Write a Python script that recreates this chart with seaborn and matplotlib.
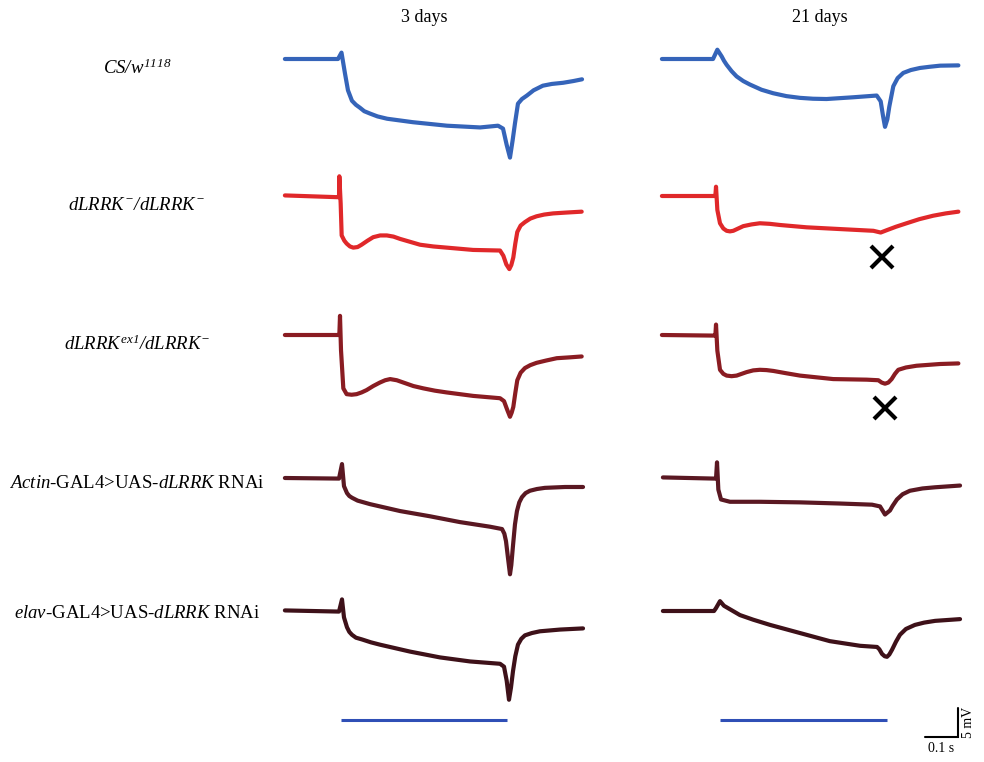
import matplotlib
matplotlib.use("Agg")
import matplotlib.pyplot as plt
import seaborn as sns

# ---------------- data (time in s from light on, voltage in mV from baseline) ----------------
columns = ["3 days", "21 days"]
genotypes = [
    r"$CS/w^{1118}$",
    r"$dLRRK^{-}/dLRRK^{-}$",
    r"$dLRRK^{ex1}/dLRRK^{-}$",
    r"$Actin$-GAL4>UAS-$dLRRK$ RNAi",
    r"$elav$-GAL4>UAS-$dLRRK$ RNAi",
]
colors = ["#3564b9", "#e0282a", "#8a1c22", "#5a1822", "#3e1119"]

cs_3d_t = [-0.169, -0.009, 0.0015, 0.012, 0.021, 0.033, 0.045, 0.057, 0.070, 0.087, 0.110, 0.139,
           0.217, 0.319, 0.419, 0.473, 0.488, 0.499, 0.509, 0.517, 0.524, 0.533, 0.545, 0.560,
           0.580, 0.608, 0.635, 0.669, 0.700, 0.726]
cs_3d_v = [0.0, 0.0, 1.1, -2.5, -5.4, -7.2, -7.9, -8.4, -9.0, -9.4, -9.9, -10.3,
           -10.9, -11.5, -11.8, -11.5, -12.0, -14.8, -17.0, -14.0, -11.1, -7.7, -6.9, -6.3,
           -5.4, -4.6, -4.3, -4.1, -3.8, -3.5]

cs_21d_t = [-0.175, -0.021, -0.008, 0.005, 0.012, 0.020, 0.035, 0.050, 0.070, 0.090, 0.125, 0.160,
            0.200, 0.241, 0.280, 0.321, 0.401, 0.472, 0.484, 0.491, 0.497, 0.504, 0.510, 0.522,
            0.535, 0.552, 0.575, 0.602, 0.630, 0.663, 0.718]
cs_21d_v = [0.0, 0.0, 1.6, 0.45, -0.3, -1.0, -2.1, -3.0, -3.8, -4.4, -5.3, -5.9,
            -6.4, -6.7, -6.85, -6.9, -6.6, -6.3, -7.3, -9.8, -11.7, -10.4, -8.2, -4.7,
            -3.3, -2.4, -1.9, -1.55, -1.35, -1.15, -1.1]

lr_3d_t = [-0.169, -0.013, -0.006, -0.005, -0.001, 0.002, 0.010, 0.017, 0.027, 0.037, 0.050, 0.062,
           0.080, 0.097, 0.118, 0.138, 0.158, 0.178, 0.208, 0.238, 0.278, 0.318, 0.398, 0.479,
           0.489, 0.498, 0.507, 0.513, 0.519, 0.525, 0.531, 0.541, 0.554, 0.570, 0.589, 0.612,
           0.639, 0.680, 0.725]
lr_3d_v = [0.1, -0.2, -0.2, 3.4, -1.3, -6.8, -7.7, -8.2, -8.7, -8.9, -8.8, -8.4,
           -7.7, -7.1, -6.8, -6.8, -7.0, -7.4, -7.9, -8.4, -8.7, -8.9, -9.3, -9.4,
           -10.3, -11.8, -12.6, -11.9, -10.6, -8.2, -6.2, -5.1, -4.5, -3.9, -3.5, -3.2,
           -3.0, -2.85, -2.7]

lr_21d_t = [-0.175, -0.020, -0.014, -0.012, -0.008, 0.0, 0.010, 0.020, 0.030, 0.040, 0.055, 0.070,
            0.095, 0.120, 0.150, 0.181, 0.261, 0.361, 0.462, 0.484, 0.502, 0.530, 0.562, 0.600,
            0.642, 0.680, 0.718]
lr_21d_v = [0.0, 0.0, 0.0, 1.6, -2.4, -4.7, -5.6, -6.0, -6.1, -6.0, -5.6, -5.2,
            -4.9, -4.7, -4.8, -5.0, -5.4, -5.7, -6.0, -6.3, -5.9, -5.3, -4.7, -4.0,
            -3.4, -3.0, -2.7]

ex_3d_t = [-0.169, -0.013, -0.005, -0.003, 0.0, 0.007, 0.017, 0.032, 0.047, 0.062, 0.077, 0.097,
           0.117, 0.133, 0.148, 0.168, 0.188, 0.218, 0.248, 0.283, 0.318, 0.398, 0.479, 0.491,
           0.500, 0.509, 0.514, 0.519, 0.525, 0.531, 0.541, 0.554, 0.570, 0.589, 0.618, 0.650,
           0.690, 0.725]
ex_3d_v = [0.0, 0.0, 0.0, 3.3, -2.6, -9.2, -10.2, -10.3, -10.2, -9.9, -9.5, -8.8,
           -8.2, -7.8, -7.6, -7.8, -8.2, -8.8, -9.2, -9.6, -9.9, -10.5, -10.9, -11.4,
           -12.8, -14.1, -13.4, -12.4, -10.0, -7.8, -6.5, -5.7, -5.2, -4.8, -4.4, -4.0,
           -3.85, -3.7]

ex_21d_t = [-0.175, -0.020, -0.014, -0.012, -0.008, 0.0, 0.010, 0.020, 0.035, 0.050, 0.065, 0.080,
            0.100, 0.120, 0.140, 0.161, 0.200, 0.241, 0.341, 0.442, 0.477, 0.487, 0.497, 0.507,
            0.517, 0.527, 0.537, 0.560, 0.592, 0.663, 0.718]
ex_21d_v = [0.0, -0.1, -0.1, 1.8, -2.7, -6.0, -6.7, -7.0, -7.1, -7.0, -6.7, -6.4,
            -6.1, -6.0, -6.05, -6.2, -6.6, -7.0, -7.6, -7.7, -7.8, -8.2, -8.4, -8.2,
            -7.6, -6.7, -6.0, -5.6, -5.3, -5.0, -4.9]

ac_3d_t = [-0.169, -0.006, 0.003, 0.009, 0.018, 0.025, 0.033, 0.050, 0.087, 0.178, 0.268, 0.358,
           0.449, 0.485, 0.492, 0.497, 0.503, 0.509, 0.513, 0.518, 0.524, 0.530, 0.537, 0.545,
           0.556, 0.569, 0.590, 0.614, 0.675, 0.729]
ac_3d_v = [0.0, -0.1, 2.4, -1.4, -2.6, -3.1, -3.4, -3.9, -4.5, -5.7, -6.6, -7.6,
           -8.4, -8.8, -9.6, -10.9, -13.8, -16.6, -15.0, -11.7, -8.0, -5.7, -4.2, -3.3,
           -2.6, -2.2, -1.9, -1.7, -1.55, -1.55]

ac_21d_t = [-0.172, -0.018, -0.012, -0.009, -0.005, 0.003, 0.030, 0.120, 0.241, 0.361, 0.458, 0.482,
            0.497, 0.512, 0.520, 0.533, 0.550, 0.572, 0.610, 0.648, 0.723]
ac_21d_v = [0.1, -0.1, -0.1, 2.7, -2.0, -3.7, -4.1, -4.1, -4.2, -4.4, -4.6, -4.9,
            -6.3, -5.6, -4.8, -3.7, -2.8, -2.2, -1.8, -1.6, -1.3]

el_3d_t = [-0.169, -0.006, 0.003, 0.009, 0.018, 0.025, 0.033, 0.045, 0.063, 0.090, 0.117, 0.208,
           0.298, 0.389, 0.479, 0.491, 0.499, 0.506, 0.512, 0.518, 0.525, 0.533, 0.543, 0.554,
           0.575, 0.599, 0.660, 0.729]
el_3d_v = [0.1, -0.1, 2.0, -1.1, -2.8, -3.6, -4.1, -4.6, -4.9, -5.4, -5.8, -7.0,
           -8.0, -8.7, -9.1, -9.6, -12.0, -15.3, -13.2, -10.4, -7.8, -5.8, -4.8, -4.2,
           -3.8, -3.5, -3.2, -3.0]

el_21d_t = [-0.172, -0.018, -0.012, 0.0, 0.012, 0.030, 0.045, 0.060, 0.100, 0.151, 0.241, 0.331,
            0.422, 0.473, 0.480, 0.488, 0.496, 0.503, 0.510, 0.518, 0.530, 0.542, 0.560, 0.587,
            0.615, 0.648, 0.723]
el_21d_v = [0.0, 0.0, 0.5, 1.7, 0.9, 0.3, -0.2, -0.7, -1.5, -2.4, -3.8, -5.2,
            -6.0, -6.2, -6.6, -7.4, -7.8, -7.9, -7.5, -6.7, -5.3, -4.1, -3.1, -2.4,
            -2.0, -1.7, -1.4]

traces = [
    [(cs_3d_t, cs_3d_v), (cs_21d_t, cs_21d_v)],
    [(lr_3d_t, lr_3d_v), (lr_21d_t, lr_21d_v)],
    [(ex_3d_t, ex_3d_v), (ex_21d_t, ex_21d_v)],
    [(ac_3d_t, ac_3d_v), (ac_21d_t, ac_21d_v)],
    [(el_3d_t, el_3d_v), (el_21d_t, el_21d_v)],
]

# lost off-transient markers (row, t, v) in the 21-day column
lost_rows = [1, 2]
lost_t = [0.488, 0.497]
lost_v = [-10.5, -12.5]

stim_start = [0.0, 0.0]
stim_end = [0.5, 0.503]
scale_t = 0.1   # s
scale_v = 5.0   # mV

# ---------------- styling / layout ----------------
sns.set_theme(style="white")
plt.rcParams["font.family"] = ["Liberation Serif", "DejaVu Serif"]
plt.rcParams["text.color"] = "black"
plt.rcParams["mathtext.fontset"] = "custom"
plt.rcParams["mathtext.rm"] = "Liberation Serif:italic"
plt.rcParams["mathtext.it"] = "Liberation Serif:italic"

W, H = 984, 762
fig = plt.figure(figsize=(W / 100, H / 100), dpi=100)
fig.patch.set_facecolor("white")

PX_S = 332.0   # pixels per second
PX_MV = 5.8    # pixels per mV
T0, T1 = -0.2, 0.76
V0, V1 = -20.0, 5.0
col_on = [341, 720]
row_base = [59, 196, 335, 478, 611]

axes = {}
for r in range(5):
    for c in range(2):
        left = col_on[c] + T0 * PX_S
        top = row_base[r] - V1 * PX_MV
        w = (T1 - T0) * PX_S
        h = (V1 - V0) * PX_MV
        ax = fig.add_axes([left / W, 1 - (top + h) / H, w / W, h / H])
        ax.set_xlim(T0, T1)
        ax.set_ylim(V0, V1)
        ax.axis("off")
        ax.patch.set_alpha(0)
        t, v = traces[r][c]
        sns.lineplot(x=t, y=v, ax=ax, color=colors[r], lw=3.0, estimator=None,
                     sort=False, legend=False)
        for line in ax.lines:
            line.set_solid_joinstyle("round")
            line.set_solid_capstyle("round")
        axes[(r, c)] = ax

# X markers
for r, t, v in zip(lost_rows, lost_t, lost_v):
    axes[(r, 1)].plot([t], [v], marker="x", color="black", ms=16, mew=3, clip_on=False)

# stimulus bars
for c in range(2):
    ax = axes[(4, c)]
    ax.plot([stim_start[c], stim_end[c]], [-18.8, -18.8], color="#2f4fb6", lw=2.2,
            solid_capstyle="butt", clip_on=False)

# scale bar
ax = axes[(4, 1)]
sx1 = 0.717
sy0 = -21.7
ax.plot([sx1 - scale_t, sx1, sx1], [sy0, sy0, sy0 + scale_v], color="black", lw=1.5,
        clip_on=False, solid_joinstyle="miter")
ax.text(sx1 - scale_t / 2, sy0 - 0.9, "0.1 s", ha="center", va="top", fontsize=10,
        color="black")
ax.text(sx1 + 0.012, sy0 + scale_v / 2, "5 mV", ha="left", va="center", rotation=90,
        fontsize=10, color="black")

# column titles
for c, name in enumerate(columns):
    x = [424, 820][c]
    fig.text(x / W, 1 - 18 / H, name, ha="center", va="center", fontsize=13, color="black")

# row labels
label_y = [68, 205, 344, 484, 614]
for r, lab in enumerate(genotypes):
    fig.text(137 / W, 1 - label_y[r] / H, lab, ha="center", va="center", fontsize=13.5,
             color="black")

fig.savefig("out.png", dpi=100, facecolor="white")
